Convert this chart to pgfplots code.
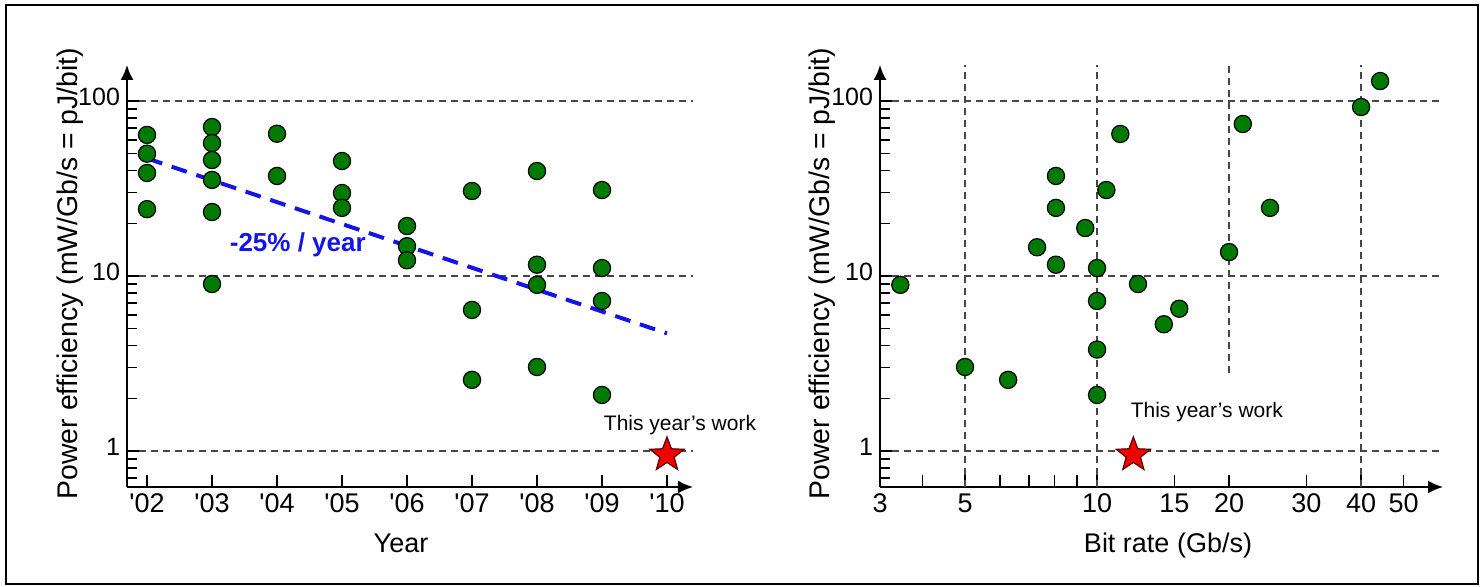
\documentclass[border=0pt]{standalone}
\usepackage{fontspec}
\setmainfont{Liberation Sans}
\usepackage{pgfplots}
\pgfplotsset{compat=1.18}
\usepackage{pgfplotstable}
\usetikzlibrary{arrows.meta}

\definecolor{dotGreen}{RGB}{0,122,0}
\definecolor{trendBlue}{RGB}{20,20,230}
\definecolor{starRed}{RGB}{240,0,0}
\definecolor{starEdge}{RGB}{90,0,0}
\definecolor{gridInk}{RGB}{70,70,70}

% filled five-point star
\pgfdeclareplotmark{fstar}{%
  \pgfpathmoveto{\pgfpointpolar{90}{\pgfplotmarksize}}%
  \pgfpathlineto{\pgfpointpolar{126}{0.42\pgfplotmarksize}}%
  \pgfpathlineto{\pgfpointpolar{162}{\pgfplotmarksize}}%
  \pgfpathlineto{\pgfpointpolar{198}{0.42\pgfplotmarksize}}%
  \pgfpathlineto{\pgfpointpolar{234}{\pgfplotmarksize}}%
  \pgfpathlineto{\pgfpointpolar{270}{0.42\pgfplotmarksize}}%
  \pgfpathlineto{\pgfpointpolar{306}{\pgfplotmarksize}}%
  \pgfpathlineto{\pgfpointpolar{342}{0.42\pgfplotmarksize}}%
  \pgfpathlineto{\pgfpointpolar{18}{\pgfplotmarksize}}%
  \pgfpathlineto{\pgfpointpolar{54}{0.42\pgfplotmarksize}}%
  \pgfpathclose
  \pgfusepathqfillstroke
}

\pgfplotstableread{
year eff
2002 64
2002 50
2002 38.8
2002 24.1
2003 71
2003 57.5
2003 46
2003 35.4
2003 23.2
2003 9.0
2004 65
2004 37.3
2005 45.4
2005 29.8
2005 24.5
2006 19.3
2006 14.8
2006 12.3
2007 30.6
2007 6.4
2007 2.55
2008 39.8
2008 11.6
2008 8.9
2008 3.02
2009 31
2009 11.1
2009 7.2
2009 2.09
}\yeardata

\pgfplotstableread{
rate eff
3.56 8.9
5 3.02
6.27 2.55
7.3 14.6
8.06 37.3
8.06 24.5
8.06 11.6
9.4 18.8
10 11.1
10 7.2
10 3.8
10 2.09
10.5 31
11.3 64.8
12.4 9.0
14.2 5.3
15.4 6.5
20 13.7
21.5 73.9
24.8 24.5
40 92.4
44.2 130
}\ratedata

\tikzset{
  griddash/.style={gridInk, line width=0.75bp, dash pattern=on 3.5bp off 2.5bp},
}

\pgfplotsset{
  every axis/.append style={
    scale only axis, axis lines=left, clip=false, anchor=south west,
    height=211bp,
    tick align=inside,
    major tick length=6bp, minor tick length=5bp,
    tick style={line width=0.75bp, black},
    major grid style={griddash},
  },
  greendot/.style={only marks, mark=*, mark size=4.3bp,
    mark options={fill=dotGreen, draw=black, line width=0.6bp}},
  redstar/.style={only marks, mark=fstar, mark size=9bp,
    mark options={fill=starRed, draw=starEdge, line width=0.6bp}},
}

\begin{document}
\begin{tikzpicture}
\path[use as bounding box] (0,0) rectangle (740.5bp,293.5bp);

\begin{axis}[at={(63.5bp,50bp)}, width=283bp,
  axis line style={line width=1bp},
  x axis line style={-{Latex[length=7.5bp,width=6.5bp]}},
  y axis line style={-{Latex[length=7.5bp,width=6.5bp]}},
  xticklabel style={font=\fontsize{13.5bp}{16bp}\selectfont},
  yticklabel style={font=\fontsize{12.5bp}{15bp}\selectfont, yshift=2bp},
  ymode=log, ymin=0.6226, ymax=160.6,
  ytick={1,10,100}, yticklabels={1,10,100},
  minor ytick={0.7,0.8,0.9,2,3,4,5,6,7,8,9,20,30,40,50,60,70,80,90},
  ymajorgrids,
  xmin=2001.692, xmax=2010.4,
  xtick={2002,...,2010},
  xticklabels={{\textquotesingle02},{\textquotesingle03},{\textquotesingle04},{\textquotesingle05},{\textquotesingle06},{\textquotesingle07},{\textquotesingle08},{\textquotesingle09},{\textquotesingle10}}]
\addplot[trendBlue, line width=2bp, dash pattern=on 8bp off 5bp] coordinates {(2002,47) (2010,4.7)};
\addplot[greendot] table[x=year, y=eff] {\yeardata};
\addplot[redstar] coordinates {(2010,0.95)};
\node[trendBlue, font=\bfseries\fontsize{13bp}{15bp}\selectfont] at (axis cs:2004.32,15.0) {-25\% / year};
\node[font=\fontsize{10.5bp}{13bp}\selectfont] at (axis cs:2010.2,1.41) {This year's work};
\end{axis}

\begin{axis}[at={(440bp,50bp)}, width=281.5bp,
  axis line style={line width=1bp},
  x axis line style={-{Latex[length=7.5bp,width=6.5bp]}},
  y axis line style={-{Latex[length=7.5bp,width=6.5bp]}},
  xticklabel style={font=\fontsize{13.5bp}{16bp}\selectfont},
  yticklabel style={font=\fontsize{12.5bp}{15bp}\selectfont, yshift=2bp},
  ymode=log, ymin=0.6226, ymax=160.6,
  ytick={1,10,100}, yticklabels={1,10,100},
  minor ytick={0.7,0.8,0.9,2,3,4,5,6,7,8,9,20,30,40,50,60,70,80,90},
  ymajorgrids,
  xmode=log, xmin=3.2, xmax=61.5,
  xtick={3.2,4,5,6,7,8,9,10,15,20,30,40,50},
  xticklabels={3,,5,,,,,10,15,20,30,40,50}]
\draw[griddash] (axis cs:5,0.6226) -- (axis cs:5,160.6);
\draw[griddash] (axis cs:10,0.6226) -- (axis cs:10,160.6);
\draw[griddash] (axis cs:20,2.8) -- (axis cs:20,160.6);
\draw[griddash] (axis cs:40,0.6226) -- (axis cs:40,160.6);
\addplot[greendot] table[x=rate, y=eff] {\ratedata};
\addplot[redstar] coordinates {(12.1,0.95)};
\node[font=\fontsize{10.5bp}{13bp}\selectfont] at (axis cs:17.8,1.67) {This year's work};
\end{axis}

\node[rotate=90, anchor=base, font=\fontsize{14.2bp}{17bp}\selectfont] at (38.5bp,156.75bp) {Power efficiency (mW/Gb/s = pJ/bit)};
\node[rotate=90, anchor=base, font=\fontsize{14.2bp}{17bp}\selectfont] at (414.5bp,156.75bp) {Power efficiency (mW/Gb/s = pJ/bit)};
\node[anchor=base, font=\fontsize{13.5bp}{16bp}\selectfont] at (200.5bp,17.5bp) {Year};
\node[anchor=base, font=\fontsize{13.5bp}{16bp}\selectfont] at (584bp,17.5bp) {Bit rate (Gb/s)};

\draw[line width=1.3bp] (3bp,1.5bp) rectangle (739bp,291bp);
\end{tikzpicture}
\end{document}
